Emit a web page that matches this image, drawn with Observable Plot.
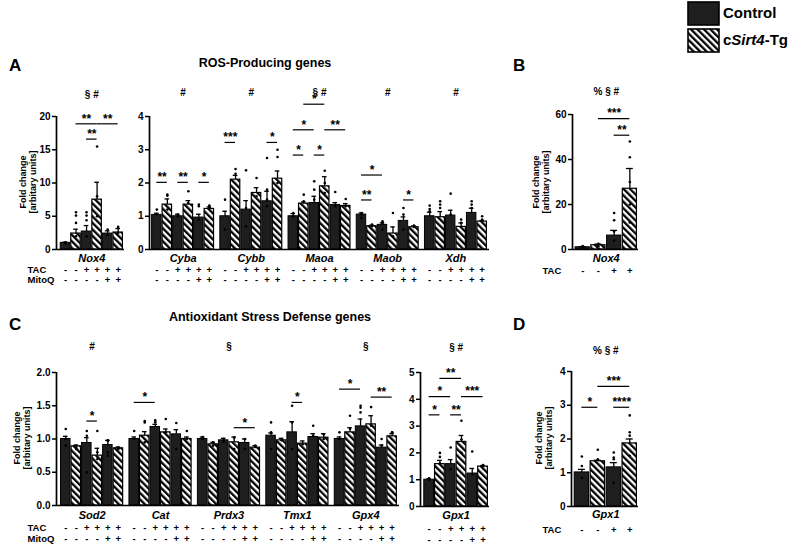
<!DOCTYPE html>
<html>
<head>
<meta charset="utf-8">
<script src="https://cdn.jsdelivr.net/npm/d3@7"></script>
<script src="https://cdn.jsdelivr.net/npm/@observablehq/plot@0.6"></script>
<style>
  body { margin: 0; background: #fff; font-family: "Liberation Sans", Arial, sans-serif; font-weight: bold; color: #000; }
  #fig { position: relative; width: 790px; height: 547px; overflow: hidden; }
  .pl { position: absolute; }
  .lab { position: absolute; white-space: nowrap; }
  .letter { font-size: 17px; line-height: 17px; }
  .title { font-size: 12.5px; line-height: 14px; transform: translateX(-50%); }
  .ylab { font-size: 9px; line-height: 10px; text-align: center; transform: translate(-50%, -50%) rotate(-90deg); }
  .lg { font-size: 15px; line-height: 16px; }
  svg [aria-label="y-axis tick"] path { stroke-width: 1.5; }
</style>
</head>
<body>
<svg width="0" height="0" style="position:absolute">
  <defs>
    <pattern id="hatch" patternUnits="userSpaceOnUse" width="4.6" height="4.6" patternTransform="rotate(-45)">
      <rect width="4.6" height="4.6" fill="#fff"></rect>
      <rect width="2.3" height="4.6" fill="#000"></rect>
    </pattern>
  </defs>
</svg>
<div id="fig"></div>
<script>
// conditions: Ctrl, Tg, Ctrl+TAC, Tg+TAC, Ctrl+TAC+MitoQ, Tg+TAC+MitoQ
const tacSigns = ["-", "-", "+", "+", "+", "+"];
const mitoSigns = ["-", "-", "-", "-", "+", "+"];
const tac4Signs = ["-", "-", "+", "+"];

// A - Nox4
const noxGenes = ["Nox4"];
const noxMean = [[1.0, 2.4, 2.7, 7.5, 2.4, 2.55]];
const noxSem = [[0.1, 0.65, 0.9, 2.6, 0.4, 0.6]];
const noxDots = [[[1.1, 0.9], [5.6, 5.1, 4.0, 2.0], [5.6, 5.1, 4.4, 2.0], [15.5, 8, 5], [3.0, 2.2], [3.4, 2.5]]];
const noxSig = [[0, 1, 3, 18.9, "**"], [0, 3, 5, 18.9, "**"], [0, 2, 3, 16.6, "**"]];
const noxMarks = ["§ #"];

// A - ROS producing
const rosGenes = ["Cyba", "Cybb", "Maoa", "Maob", "Xdh"];
const rosMean = [
  [1.04, 1.35, 1.0, 1.35, 0.96, 1.22],
  [1.0, 2.1, 1.2, 1.7, 1.45, 2.13],
  [1.0, 1.38, 1.4, 1.9, 1.34, 1.31],
  [1.05, 0.7, 0.74, 0.48, 0.86, 0.67],
  [1.0, 0.97, 1.02, 0.68, 1.1, 0.84]
];
const rosSem = [
  [0.05, 0.17, 0.06, 0.12, 0.1, 0.06],
  [0.15, 0.13, 0.27, 0.16, 0.3, 0.23],
  [0.08, 0.05, 0.2, 0.29, 0.07, 0.07],
  [0.05, 0.03, 0.06, 0.2, 0.12, 0.04],
  [0.12, 0.17, 0.16, 0.12, 0.14, 0.03]
];
const rosDots = [
  [[1.2, 1.05], [1.65, 1.62, 1.2], [1.05, 1.0], [1.75, 1.4], [1.35, 1.3, 0.9], [1.32, 1.28, 1.25]],
  [[1.5, 0.6], [2.42, 2.28], [2.38, 1.25, 0.7], [2.15, 1.6], [2.75, 1.8, 1.5, 1.3], [3.0, 2.78, 2.0]],
  [[1.1, 1.0], [1.65, 1.45], [2.05, 1.8, 1.5], [2.37, 2.0, 1.7], [1.73, 1.3], [1.52, 1.3]],
  [[1.1, 1.05, 0.95], [0.75, 0.7], [0.85, 0.8, 0.6], [1.1, 0.4], [1.25, 1.05, 0.6], [0.72, 0.68]],
  [[1.32, 1.22, 1.15], [1.45, 1.35, 1.25], [1.68, 1.05], [0.9, 0.8], [1.45, 1.35, 1.25], [1.0, 0.9]]
];
const rosSig = [
  [0, 0, 1, 2.02, "**"], [0, 2, 3, 2.02, "**"], [0, 4, 5, 2.02, "*"],
  [1, 0, 1, 3.22, "***"], [1, 4, 5, 3.22, "*"],
  [2, 0, 1, 2.84, "*"], [2, 0, 2, 3.6, "*"], [2, 2, 3, 2.84, "*"], [2, 3, 5, 3.6, "**"], [2, 1, 3, 4.37, "*"],
  [3, 0, 1, 1.49, "**"], [3, 0, 2, 2.24, "*"], [3, 4, 5, 1.49, "*"]
];
const rosMarks = ["#", "#", "§ #", "#", "#"];

// B - Nox4 (TAC only)
const bGenes = ["Nox4"];
const bMean = [[1.0, 1.9, 6.2, 27]];
const bSem = [[0.3, 0.5, 2.3, 9]];
const bDots = [[[1.5, 1.0], [2.5, 1.5], [16.2, 13, 8, 4], [48, 41, 30, 20, 12]]];
const bSig = [[0, 1, 3, 58.2, "***"], [0, 2, 3, 50.8, "**"]];
const bMarks = ["% § #"];

// C - antioxidant
const aoxGenes = ["Sod2", "Cat", "Prdx3", "Tmx1", "Gpx4"];
const aoxMean = [
  [1.0, 0.89, 0.94, 0.75, 0.91, 0.86],
  [1.0, 1.05, 1.18, 1.1, 1.07, 1.0],
  [1.0, 0.92, 0.98, 0.95, 0.94, 0.87],
  [1.05, 0.98, 1.1, 0.93, 1.03, 1.02],
  [1.0, 1.1, 1.19, 1.22, 0.87, 1.04]
];
const aoxSem = [
  [0.04, 0.02, 0.08, 0.11, 0.07, 0.02],
  [0.03, 0.06, 0.04, 0.05, 0.07, 0.03],
  [0.03, 0.03, 0.03, 0.08, 0.06, 0.03],
  [0.04, 0.03, 0.16, 0.04, 0.05, 0.06],
  [0.03, 0.07, 0.11, 0.13, 0.04, 0.04]
];
const aoxDots = [
  [[1.15, 1.0, 0.9], [0.88, 0.85], [1.12, 1.05, 0.5], [1.12, 0.8, 0.7], [0.98, 0.97, 0.8, 0.75], [0.86, 0.85]],
  [[1.12, 1.0], [1.27, 1.25, 0.95], [1.28, 1.25], [1.3, 1.1], [1.24, 0.85], [1.12, 1.0]],
  [[1.03, 1.0], [0.95, 0.9], [1.0, 0.96], [1.02, 0.85], [1.0, 0.85], [0.9, 0.88]],
  [[1.25, 1.1, 0.85], [0.98], [1.5, 1.25, 0.85], [0.92], [1.2, 1.05], [1.07, 1.0]],
  [[1.1, 1.0], [1.35, 1.15], [1.5, 1.47, 1.4], [1.48, 1.2], [1.0, 0.9], [1.1, 1.1]]
];
const aoxSig = [
  [0, 2, 3, 1.27, "*"],
  [1, 0, 2, 1.55, "*"],
  [2, 3, 5, 1.17, "*"],
  [3, 2, 3, 1.55, "*"],
  [4, 0, 2, 1.75, "*"], [4, 3, 5, 1.63, "**"]
];
const aoxMarks = ["#", "", "§", "", "§"];

// C - Gpx1
const gpxGenes = ["Gpx1"];
const gpxMean = [[1.0, 1.58, 1.58, 2.41, 1.23, 1.49]];
const gpxSem = [[0.03, 0.14, 0.17, 0.24, 0.19, 0.04]];
const gpxDots = [[[1.05, 1.0], [2.0, 1.85, 1.6], [2.2, 1.4], [3.2, 2.5, 2.0], [2.05, 1.2], [1.55, 1.5]]];
const gpxSig = [[0, 0, 1, 3.42, "*"], [0, 0, 2, 4.1, "*"], [0, 1, 3, 4.78, "**"], [0, 2, 3, 3.42, "**"], [0, 3, 5, 4.1, "***"]];
const gpxMarks = ["§ #"];

// D - Gpx1 (TAC only)
const dGenes = ["Gpx1"];
const dMean = [[1.01, 1.34, 1.16, 1.87]];
const dSem = [[0.09, 0.03, 0.14, 0.13]];
const dDots = [[[1.48, 1.2, 0.85], [1.68, 1.4], [1.6, 1.45, 1.4, 0.7], [2.7, 2.2, 2.1, 1.5]]];
const dSig = [[0, 0, 1, 2.94, "*"], [0, 1, 3, 3.56, "***"], [0, 2, 3, 2.94, "****"]];
const dMarks = ["% § #"];

const fig = d3.select("#fig");

function panel(cfg) {
  const {genes, mean, sem, dots, sig, marks, pitch = 6.5, xDomain, yDomain, yTicks, fmt = d3.format("d"),
    box, m, geneDy, markY, rows, rowLabelDx} = cfg;
  const nBars = mean[0].length;
  const bars = [];
  genes.forEach((g, gi) => mean[gi].forEach((v, c) =>
    bars.push({x: gi * pitch + c, mean: v, sem: sem[gi][c], c, tg: c % 2 === 1})));
  const pts = [];
  genes.forEach((g, gi) => dots[gi].forEach((vs, c) =>
    vs.forEach(v => pts.push({x: gi * pitch + c, y: v}))));
  const sigs = sig.map(([gi, c1, c2, y, label]) => ({x1: gi * pitch + c1, x2: gi * pitch + c2, y, label}));
  const heads = genes.map((g, gi) => ({g, x: gi * pitch + (nBars - 1) / 2, mark: marks[gi]}));
  const hw = 0.45;

  const rowMarks = [];
  rows.forEach(r => {
    rowMarks.push(Plot.text(bars, {x: "x", text: d => r.signs[d.c], frameAnchor: "bottom", dy: r.dy, fontSize: 9.5}));
    if (rowLabelDx != null) {
      rowMarks.push(Plot.text([r.name], {text: d => d, frameAnchor: "bottom-left", textAnchor: "start",
        dx: rowLabelDx, dy: r.dy, fontSize: 9.5}));
    }
  });

  const chart = Plot.plot({
    width: box.w,
    height: box.h,
    marginTop: m[0], marginRight: m[1], marginBottom: m[2], marginLeft: m[3],
    x: {domain: xDomain, axis: null},
    y: {domain: yDomain, ticks: yTicks, tickFormat: fmt, tickSize: 4, tickPadding: 2, label: null},
    style: {
      background: "transparent",
      fontFamily: "'Liberation Sans', Arial, sans-serif",
      fontWeight: "bold",
      fontSize: "10px",
      color: "#000",
      overflow: "visible"
    },
    marks: [
      Plot.rect(bars.filter(d => !d.tg), {x1: d => d.x - hw, x2: d => d.x + hw, y1: 0, y2: "mean",
        fill: "#1e1e1e", stroke: "#000", strokeWidth: 1}),
      Plot.rect(bars.filter(d => d.tg), {x1: d => d.x - hw, x2: d => d.x + hw, y1: 0, y2: "mean",
        fill: "url(#hatch)", stroke: "#000", strokeWidth: 1.2}),
      Plot.dot(pts, {x: "x", y: "y", r: 1.3, fill: "#000", stroke: null}),
      Plot.ruleX(bars, {x: "x", y1: "mean", y2: d => d.mean + d.sem, strokeWidth: 1.3}),
      Plot.ruleY(bars, {x1: d => d.x - 0.22, x2: d => d.x + 0.22, y: d => d.mean + d.sem, strokeWidth: 1.3}),
      Plot.ruleY([0], {strokeWidth: 1.7}),
      Plot.ruleX([xDomain[0]], {y1: 0, y2: yDomain[1], strokeWidth: 1.7}),
      Plot.ruleY(sigs, {x1: "x1", x2: "x2", y: "y", strokeWidth: 1.2}),
      Plot.text(sigs, {x: d => (d.x1 + d.x2) / 2, y: "y", text: "label", dy: -5, fontSize: 12}),
      Plot.text(heads, {x: "x", y: () => markY, text: "mark", fontSize: 10}),
      Plot.text(heads, {x: "x", text: "g", frameAnchor: "bottom", dy: geneDy, fontStyle: "italic", fontSize: 11}),
      ...rowMarks
    ]
  });

  fig.append("div").attr("class", "pl")
    .style("left", box.x + "px").style("top", box.y + "px")
    .style("width", box.w + "px").style("height", box.h + "px")
    .append(() => chart);
}

const rows6 = [{name: "TAC", signs: tacSigns, dy: 23}, {name: "MitoQ", signs: mitoSigns, dy: 33.5}];

// A Nox4
panel({genes: noxGenes, mean: noxMean, sem: noxSem, dots: noxDots, sig: noxSig, marks: noxMarks,
  xDomain: [-0.85, 5.6], yDomain: [0, 20], yTicks: [0, 5, 10, 15, 20],
  box: {x: 0, y: 80, w: 130, h: 215}, m: [36, 6, 46, 56], geneDy: 12.5, markY: 23.3,
  rows: rows6, rowLabelDx: -29});

// A ROS
panel({genes: rosGenes, mean: rosMean, sem: rosSem, dots: rosDots, sig: rosSig, marks: rosMarks,
  xDomain: [-0.7, 31.7], yDomain: [0, 4], yTicks: [0, 1, 2, 3, 4],
  box: {x: 130, y: 80, w: 370, h: 215}, m: [36, 11, 46, 19], geneDy: 12.5, markY: 4.7,
  rows: rows6});

// B
panel({genes: bGenes, mean: bMean, sem: bSem, dots: bDots, sig: bSig, marks: bMarks,
  xDomain: [-0.65, 3.55], yDomain: [0, 60], yTicks: [0, 20, 40, 60],
  box: {x: 500, y: 80, w: 150, h: 215}, m: [34, 12, 46, 72], geneDy: 12, markY: 70.3,
  rows: [{name: "TAC", signs: tac4Signs, dy: 24}], rowLabelDx: -30});

const rowsC = [{name: "TAC", signs: tacSigns, dy: 25}, {name: "MitoQ", signs: mitoSigns, dy: 36}];

// C antioxidant
panel({genes: aoxGenes, mean: aoxMean, sem: aoxSem, dots: aoxDots, sig: aoxSig, marks: aoxMarks,
  xDomain: [-0.88, 31.7], yDomain: [0, 2], yTicks: [0, 0.5, 1, 1.5, 2], fmt: d3.format(".1f"),
  box: {x: 0, y: 335, w: 402, h: 212}, m: [37, 3, 42, 56], geneDy: 13, markY: 2.38,
  rows: rowsC, rowLabelDx: -29});

// C Gpx1
panel({genes: gpxGenes, mean: gpxMean, sem: gpxSem, dots: gpxDots, sig: gpxSig, marks: gpxMarks,
  xDomain: [-0.8, 5.6], yDomain: [0, 5], yTicks: [0, 1, 2, 3, 4, 5],
  box: {x: 400, y: 335, w: 100, h: 212}, m: [37, 11, 41, 20], geneDy: 12, markY: 5.93,
  rows: rowsC});

// D
panel({genes: dGenes, mean: dMean, sem: dSem, dots: dDots, sig: dSig, marks: dMarks,
  xDomain: [-0.65, 3.55], yDomain: [0, 4], yTicks: [0, 1, 2, 3, 4],
  box: {x: 500, y: 335, w: 150, h: 212}, m: [36, 12, 41, 71], geneDy: 11,  markY: 4.62,
  rows: [{name: "TAC", signs: tac4Signs, dy: 26}], rowLabelDx: -29});

// labels
const lab = (cls, text, x, y) => fig.append("div").attr("class", "lab " + cls)
  .style("left", x + "px").style("top", y + "px").html(text);

lab("letter", "A", 9, 57);
lab("letter", "B", 513, 57);
lab("letter", "C", 9, 316);
lab("letter", "D", 513, 316);
lab("title", "ROS-Producing genes", 265, 56);
lab("title", "Antioxidant Stress Defense genes", 270, 310);
const yl = "Fold change<br>[arbitary units]";
lab("ylab", yl, 28, 182);
lab("ylab", yl, 541, 182);
lab("ylab", yl, 22, 438);
lab("ylab", yl, 544, 438);

// legend
const lg = fig.append("svg").attr("width", 40).attr("height", 56)
  .style("position", "absolute").style("left", "686px").style("top", "0px");
lg.append("rect").attr("x", 2).attr("y", 2).attr("width", 31).attr("height", 23)
  .attr("fill", "#1e1e1e").attr("stroke", "#000").attr("stroke-width", 1.6);
lg.append("rect").attr("x", 2).attr("y", 29).attr("width", 31).attr("height", 23)
  .attr("fill", "url(#hatch)").attr("stroke", "#000").attr("stroke-width", 1.6);
lab("lg", "Control", 723, 5);
lab("lg", "c<i>Sirt4</i>-Tg", 723, 32);
</script>
</body>
</html>
